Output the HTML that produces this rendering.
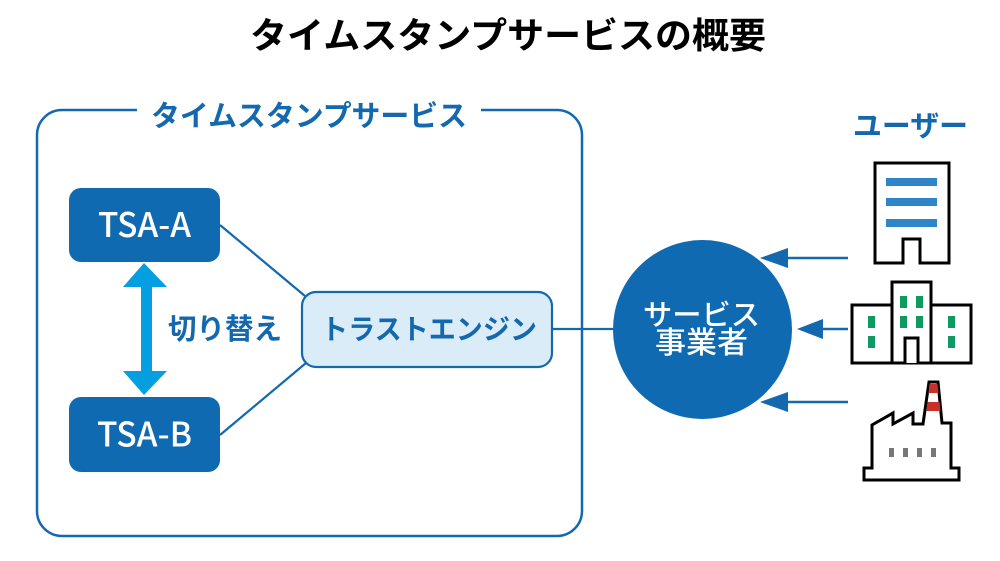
<!DOCTYPE html>
<html><head><meta charset="utf-8"><style>
html,body{margin:0;padding:0;background:#fff;}
svg{display:block;}
text{font-family:"Liberation Sans","Noto Sans CJK JP",sans-serif;}
.jp{font-family:"Noto Sans CJK JP","Liberation Sans",sans-serif;}
</style></head><body>
<svg width="1000" height="561" viewBox="0 0 1000 561" xmlns="http://www.w3.org/2000/svg">
<rect width="1000" height="561" fill="#fff"/>
<!-- Title -->
<text class="jp" x="508" y="48" font-size="36" font-weight="bold" fill="#000" text-anchor="middle" textLength="516" lengthAdjust="spacingAndGlyphs">タイムスタンプサービスの概要</text>

<!-- Outer box -->
<path d="M137,110 H62 A25,25 0 0 0 37,135 V511 A25,25 0 0 0 62,536 H557 A25,25 0 0 0 582,511 V135 A25,25 0 0 0 557,110 H481" fill="none" stroke="#1468ae" stroke-width="2.5"/>
<text class="jp" x="309" y="126" font-size="29" font-weight="bold" fill="#1468ae" text-anchor="middle" textLength="316" lengthAdjust="spacingAndGlyphs">タイムスタンプサービス</text>

<!-- connectors -->
<line x1="220" y1="225" x2="305" y2="296" stroke="#1468ae" stroke-width="2.2"/>
<line x1="220" y1="435" x2="306" y2="363" stroke="#1468ae" stroke-width="2.2"/>
<line x1="552" y1="329" x2="614" y2="329" stroke="#1468ae" stroke-width="2.2"/>

<!-- TSA boxes -->
<rect x="69" y="188" width="151" height="74" rx="12" fill="#106ab1"/>
<text class="jp" x="144.5" y="237" font-size="34" font-weight="500" fill="#fff" text-anchor="middle" textLength="93" lengthAdjust="spacingAndGlyphs">TSA-A</text>
<rect x="69" y="397" width="151" height="75" rx="12" fill="#106ab1"/>
<text class="jp" x="144.5" y="446.5" font-size="34" font-weight="500" fill="#fff" text-anchor="middle" textLength="95" lengthAdjust="spacingAndGlyphs">TSA-B</text>

<!-- double arrow -->
<polygon points="144,263 167,287 152,287 152,371 167,371 144,395 123,371 141,371 141,287 123,287" fill="#049fe0"/>
<text class="jp" x="225" y="339" font-size="29" font-weight="bold" fill="#1468ae" text-anchor="middle" textLength="114" lengthAdjust="spacingAndGlyphs">切り替え</text>

<!-- trust engine -->
<rect x="302" y="292" width="250" height="75" rx="14" fill="#dbecf9" stroke="#1468ae" stroke-width="2.2"/>
<text class="jp" x="429" y="339" font-size="28" font-weight="bold" fill="#1468ae" text-anchor="middle" textLength="216" lengthAdjust="spacingAndGlyphs">トラストエンジン</text>

<!-- circle -->
<circle cx="702.5" cy="329.5" r="89.5" fill="#106ab1"/>
<text class="jp" x="701.5" y="325" font-size="29" font-weight="500" fill="#fff" text-anchor="middle" textLength="117" lengthAdjust="spacingAndGlyphs">サービス</text>
<text class="jp" x="701.5" y="353" font-size="30" font-weight="500" fill="#fff" text-anchor="middle" textLength="93" lengthAdjust="spacingAndGlyphs">事業者</text>

<!-- user arrows -->
<g stroke="#1468ae" stroke-width="2.5">
<line x1="786" y1="258" x2="848" y2="258"/>
<line x1="821" y1="329" x2="848" y2="329"/>
<line x1="786" y1="402" x2="848" y2="402"/>
</g>
<g fill="#1468ae">
<polygon points="760,258 788,248 788,268"/>
<polygon points="797,329 823,319 823,339"/>
<polygon points="760,402 788,392 788,412"/>
</g>

<!-- Users label -->
<text class="jp" x="910.5" y="136" font-size="29" font-weight="bold" fill="#1468ae" text-anchor="middle" textLength="115" lengthAdjust="spacingAndGlyphs">ユーザー</text>

<!-- Office building -->
<path d="M875,163 H949 V263 H920 V239 H903 V263 H875 Z" fill="#fff" stroke="#000" stroke-width="3" stroke-linejoin="miter"/>
<g fill="#2e86c8">
<rect x="886" y="178" width="51" height="8"/>
<rect x="886" y="198" width="51" height="8"/>
<rect x="886" y="219" width="51" height="8"/>
</g>

<!-- Campus building -->
<path d="M852,305 H892 V282 H931 V305 H971 V363 H852 Z" fill="#fff" stroke="#000" stroke-width="3"/>
<line x1="892" y1="305" x2="892" y2="363" stroke="#000" stroke-width="3"/>
<line x1="931" y1="305" x2="931" y2="363" stroke="#000" stroke-width="3"/>
<path d="M905,363 V338 H918 V363" fill="#fff" stroke="#000" stroke-width="3"/>
<g fill="#0e9a62">
<rect x="900" y="296" width="7" height="12"/>
<rect x="916" y="296" width="7" height="12"/>
<rect x="900" y="316" width="7" height="12"/>
<rect x="916" y="316" width="7" height="12"/>
<rect x="868" y="316" width="7" height="12"/>
<rect x="868" y="336" width="7" height="12"/>
<rect x="948" y="316" width="7" height="12"/>
<rect x="948" y="336" width="7" height="12"/>
</g>

<!-- Factory -->
<path d="M872,468 V425 L893,413 V424 L913,413 V424 H923 L929,382 H938 L942,423 H951 V468 H959 V480 H864 V468 Z" fill="#fff" stroke="#000" stroke-width="3" stroke-linejoin="miter"/>
<polygon points="929.5,384 937.5,384 938.5,393 928.5,393" fill="#c8302a"/>
<polygon points="927.5,402 939.5,402 940.5,411 926.5,411" fill="#c8302a"/>
<g fill="#777">
<rect x="889" y="448" width="5" height="9"/>
<rect x="903" y="448" width="5" height="9"/>
<rect x="917" y="448" width="5" height="9"/>
<rect x="931" y="448" width="5" height="9"/>
</g>
</svg>
</body></html>
